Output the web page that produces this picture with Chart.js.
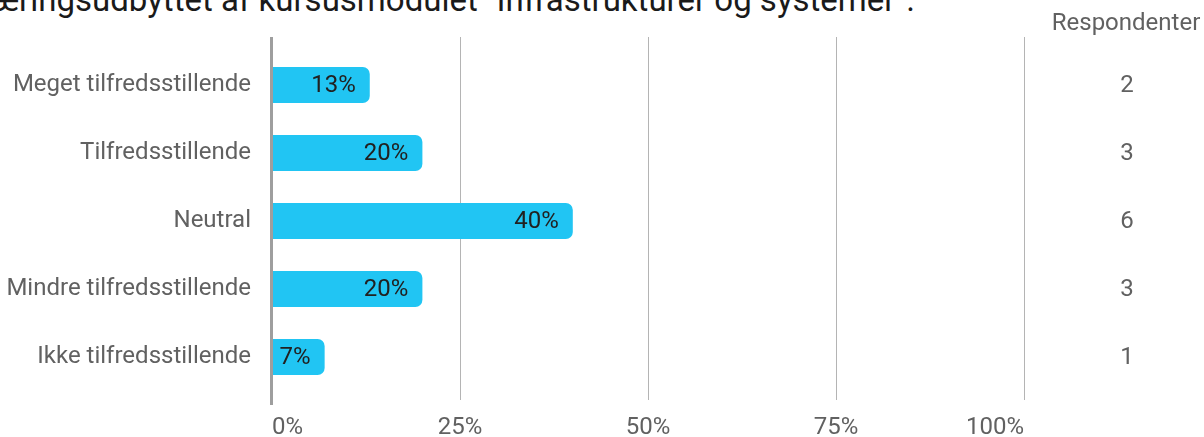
<!DOCTYPE html>
<html>
<head>
<meta charset="utf-8">
<script src="https://cdn.jsdelivr.net/npm/chart.js@4.4.1/dist/chart.umd.min.js"></script>
<style>
  html, body { margin: 0; padding: 0; background: #ffffff; overflow: hidden; }
  #wrap { position: relative; width: 1204px; height: 437px; overflow: hidden; }
  #title { position: absolute; right: 289px; top: -17px; white-space: nowrap; font-family: Roboto, sans-serif; font-size: 33px; line-height: 33px; color: #1a1a1a; }
  canvas { position: absolute; left: 0; top: 0; }
</style>
</head>
<body>
<div id="wrap">
  <div id="title">Læringsudbyttet af kursusmodulet "Infrastrukturer og systemer".</div>
  <canvas id="c" width="1204" height="437"></canvas>
</div>
<script>
const categories = ["Meget tilfredsstillende", "Tilfredsstillende", "Neutral", "Mindre tilfredsstillende", "Ikke tilfredsstillende"];
const percentValues = [13, 20, 40, 20, 7];
const respondents = [2, 3, 6, 3, 1];
const xTicks = [0, 25, 50, 75, 100];
const respondentsHeader = "Respondenter";

const FONT = "Roboto, sans-serif";
const labelColor = "#616161";

const overlay = {
  id: "overlay",
  beforeDatasetsDraw(chart) {
    const ctx = chart.ctx, x = chart.scales.x, area = chart.chartArea;
    ctx.save();
    ctx.strokeStyle = "#b4b4b4";
    ctx.lineWidth = 1;
    xTicks.forEach(v => {
      if (v === 0) return;
      const px = Math.round(x.getPixelForValue(v)) + 0.5;
      ctx.beginPath();
      ctx.moveTo(px, area.top - 14);
      ctx.lineTo(px, area.bottom + 9);
      ctx.stroke();
    });
    ctx.restore();
  },
  afterDatasetsDraw(chart) {
    const ctx = chart.ctx, x = chart.scales.x, area = chart.chartArea;
    ctx.save();
    ctx.strokeStyle = "#9e9e9e";
    ctx.lineWidth = 3;
    const zx = x.getPixelForValue(0) - 0.5;
    ctx.beginPath();
    ctx.moveTo(zx, area.top - 14);
    ctx.lineTo(zx, area.bottom + 14);
    ctx.stroke();

    const meta = chart.getDatasetMeta(0);
    ctx.font = "24px " + FONT;
    ctx.textBaseline = "middle";
    meta.data.forEach((bar, i) => {
      ctx.fillStyle = "#212121";
      ctx.textAlign = "right";
      ctx.fillText(Math.round(percentValues[i]) + "%", bar.x - 14, bar.y + 1);
      ctx.fillStyle = labelColor;
      ctx.textAlign = "center";
      ctx.fillText(String(respondents[i]), 1127, bar.y + 1);
    });
    ctx.textAlign = "center";
    ctx.fillStyle = labelColor;
    ctx.fillText(respondentsHeader, 1126, 24);
    ctx.restore();
  }
};

new Chart(document.getElementById("c"), {
  type: "bar",
  data: {
    labels: categories,
    datasets: [{
      data: percentValues,
      backgroundColor: "#21c5f3",
      borderWidth: 0,
      borderSkipped: "start",
      borderRadius: 7,
      categoryPercentage: 1,
      barPercentage: 0.53
    }]
  },
  options: {
    indexAxis: "y",
    responsive: false,
    animation: false,
    devicePixelRatio: 1,
    layout: { padding: { left: 0, right: 180, top: 51, bottom: 0 } },
    plugins: { legend: { display: false }, tooltip: { enabled: false }, title: { display: false } },
    scales: {
      x: {
        type: "linear",
        min: 0,
        max: 100,
        afterBuildTicks(scale) { scale.ticks = xTicks.map(v => ({ value: v })); },
        afterFit(scale) { scale.height = 46; },
        grid: { display: false, drawTicks: false },
        border: { display: false },
        ticks: {
          align: "inner",
          padding: 23,
          color: labelColor,
          font: { family: FONT, size: 24 },
          callback: v => v + "%"
        }
      },
      y: {
        type: "category",
        afterFit(scale) { scale.width = 272; },
        grid: { display: false, drawTicks: false },
        border: { display: false },
        ticks: {
          padding: 21,
          color: labelColor,
          font: { family: FONT, size: 24 }
        }
      }
    }
  },
  plugins: [overlay]
});
</script>
</body>
</html>
